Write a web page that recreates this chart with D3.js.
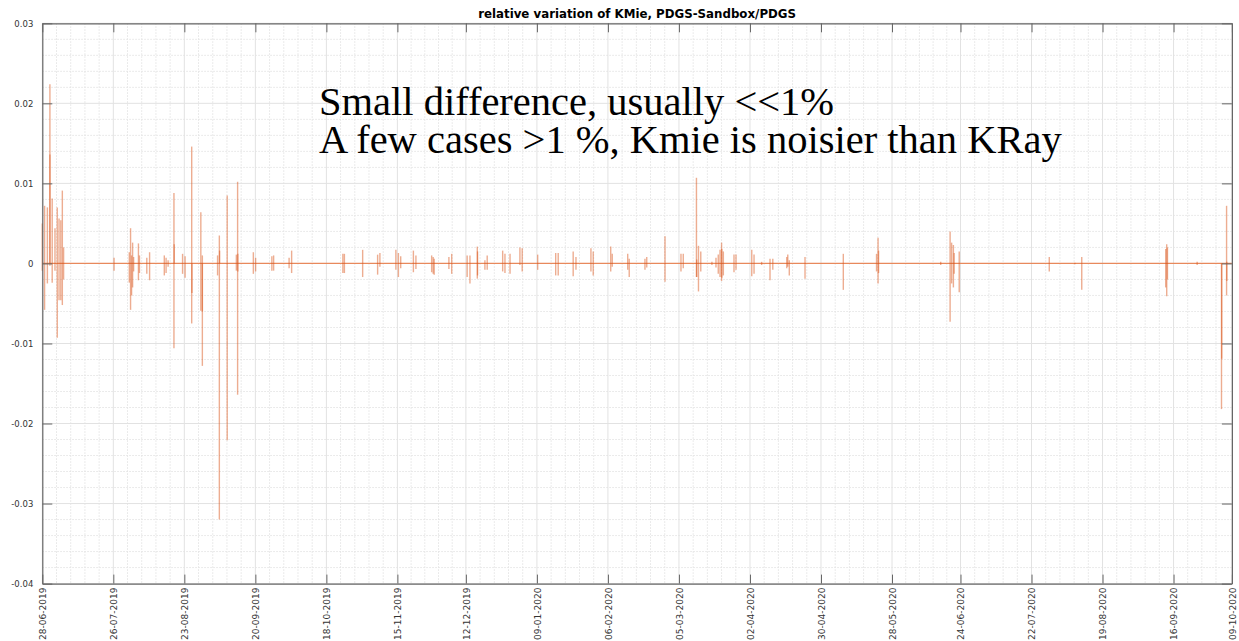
<!DOCTYPE html>
<html>
<head>
<meta charset="utf-8">
<script src="https://cdn.jsdelivr.net/npm/d3@7"></script>
<style>
  html, body { margin: 0; padding: 0; background: #fff; overflow: hidden; }
  svg { display: block; }
</style>
</head>
<body>
<svg id="chart" width="1239" height="641"></svg>
<script>
// Relative variation of KMie between the PDGS-Sandbox and PDGS processing chains.

const chartTitle = "relative variation of KMie, PDGS-Sandbox/PDGS";
const noteLines = [
  "Small difference, usually <<1%",
  "A few cases >1 %, Kmie is noisier than KRay"
];

// date tick labels (dd-mm-yyyy); first and last bound the time axis
const xTickLabels = [
  "28-06-2019", "26-07-2019", "23-08-2019", "20-09-2019", "18-10-2019", "15-11-2019",
  "12-12-2019", "09-01-2020", "06-02-2020", "05-03-2020", "02-04-2020", "30-04-2020",
  "28-05-2020", "24-06-2020", "22-07-2020", "19-08-2020", "16-09-2020", "09-10-2020"
];
const yTicks = [-0.04, -0.03, -0.02, -0.01, 0, 0.01, 0.02, 0.03];

// each spike: day offset from the first date, highest and lowest excursion
const spikeDay = [
  0.0, 0.9, 2.0, 3.0, 3.0, 3.9, 5.0, 5.9, 6.6, 7.3, 7.9, 8.4,
  28.3, 34.3, 34.8, 35.2, 35.6, 36.0, 37.9, 38.3, 41.2, 42.3,
  48.1, 48.8, 49.6, 51.9, 52.0, 55.3, 56.3, 58.9, 59.0, 62.5, 63.1, 63.1,
  69.1, 69.8, 69.9, 72.9, 76.5, 77.0, 77.1, 83.2, 84.1, 90.5, 91.2, 97.3, 98.3,
  118.5, 119.1, 126.3, 132.2, 133.1, 139.4, 140.4, 141.3, 146.3, 147.3,
  153.5, 154.1, 154.5, 160.3, 161.4, 167.5, 168.6, 171.5, 171.6, 174.5, 175.4,
  181.5, 182.4, 184.4, 188.3, 189.2, 195.3, 202.4, 203.4, 209.3, 210.4,
  216.3, 217.2, 224.1, 224.7, 230.8, 231.4, 237.6, 238.3, 245.5, 251.8, 252.7,
  257.9, 258.0, 258.7, 259.6, 264.0, 265.6, 266.5, 267.2, 267.8, 267.9, 268.5,
  272.7, 273.5, 279.7, 280.6, 283.6, 286.9, 288.0, 293.5, 293.9, 294.5, 300.7,
  315.8, 328.9, 329.5, 329.7, 354.2, 357.9, 358.5, 359.2, 359.5, 361.5,
  397.0, 407.1, 409.8, 442.9, 443.3, 443.6, 455.3, 464.9, 465.0, 466.9, 467.0
];
const spikeHigh = [
  0.0050, 0.0072, 0.0070, 0.0224, 0.0136, 0.0081, 0.0044, 0.0070, 0.0056, 0.0054, 0.0091, 0.0020,
  0.0007, 0.0014, 0.0044, 0.0010, 0.0026, 0.0008, 0.0025, 0.0010, 0.0007, 0.0014,
  0.0010, 0.0007, 0.0004, 0.0088, 0.0024, 0.0012, 0.0009, 0.0146, 0.0000, 0.0064, 0.0010, 0.0000,
  0.0010, 0.0035, 0.0016, 0.0085, 0.0011, 0.0102, 0.0012, 0.0014, 0.0007, 0.0009, 0.0010, 0.0007, 0.0016,
  0.0012, 0.0012, 0.0017, 0.0011, 0.0013, 0.0017, 0.0013, 0.0009, 0.0016, 0.0010,
  0.0010, 0.0008, 0.0006, 0.0008, 0.0012, 0.0010, 0.0010, 0.0021, 0.0015, 0.0004, 0.0010,
  0.0016, 0.0012, 0.0012, 0.0020, 0.0019, 0.0011, 0.0013, 0.0013, 0.0015, 0.0008,
  0.0019, 0.0015, 0.0021, 0.0012, 0.0012, 0.0006, 0.0006, 0.0008, 0.0034, 0.0012, 0.0012,
  0.0107, 0.0005, 0.0022, 0.0015, 0.0002, 0.0007, 0.0011, 0.0017, 0.0026, 0.0018, 0.0015,
  0.0011, 0.0011, 0.0017, 0.0011, 0.0002, 0.0006, 0.0006, 0.0008, 0.0011, 0.0004, 0.0008,
  0.0012, 0.0012, 0.0032, 0.0016, 0.0002, 0.0040, 0.0026, 0.0023, 0.0013, 0.0015,
  0.0008, 0.0001, 0.0008, 0.0018, 0.0024, 0.0020, 0.0002, 0.0000, 0.0000, 0.0072, 0.0002
];
const spikeLow = [
  -0.0009, -0.0058, -0.0025, 0.0000, -0.0003, -0.0024, -0.0009, -0.0093, -0.0046, -0.0046, -0.0052, -0.0020,
  -0.0009, -0.0024, -0.0058, -0.0040, -0.0030, -0.0010, -0.0021, -0.0012, -0.0013, -0.0021,
  -0.0015, -0.0012, -0.0004, -0.0106, 0.0000, -0.0013, -0.0018, -0.0075, -0.0037, -0.0059, -0.0128, -0.0060,
  -0.0015, -0.0320, 0.0000, -0.0221, -0.0009, -0.0164, -0.0010, -0.0013, -0.0010, -0.0009, -0.0009, -0.0006, -0.0012,
  -0.0012, -0.0012, -0.0017, -0.0014, -0.0004, -0.0008, -0.0017, -0.0006, -0.0011, -0.0007,
  -0.0011, -0.0013, -0.0014, -0.0007, -0.0013, -0.0017, -0.0025, -0.0019, -0.0015, -0.0008, -0.0008,
  -0.0010, -0.0012, -0.0013, -0.0002, -0.0010, -0.0008, -0.0015, -0.0015, -0.0016, -0.0008,
  -0.0010, -0.0015, -0.0010, -0.0004, -0.0008, -0.0017, -0.0008, -0.0005, -0.0023, -0.0010, -0.0006,
  -0.0017, -0.0017, -0.0035, -0.0010, -0.0002, -0.0005, -0.0013, -0.0017, -0.0022, -0.0018, -0.0015,
  -0.0011, -0.0008, -0.0016, -0.0013, -0.0002, -0.0021, -0.0008, -0.0006, -0.0004, -0.0015, -0.0019,
  -0.0033, -0.0010, -0.0025, -0.0012, -0.0002, -0.0073, -0.0025, -0.0030, -0.0013, -0.0036,
  -0.0010, -0.0001, -0.0033, -0.0030, -0.0041, -0.0020, -0.0002, -0.0182, -0.0119, -0.0040, -0.0022
];

const W = 1239, H = 641;
const plot = { left: 42.3, right: 1231.9, top: 23.3, bottom: 583.6 };
const lineColor = "#d95319";

const parseDay = d3.timeParse("%d-%m-%Y");
const tickDates = xTickLabels.map(parseDay);
const DAY = 864e5;
const startTime = tickDates[0].getTime();
const spikeDate = d => new Date(startTime + d * DAY);

const x = d3.scaleTime()
  .domain([tickDates[0], tickDates[tickDates.length - 1]])
  .range([plot.left, plot.right]);
const y = d3.scaleLinear()
  .domain([-0.04, 0.03])
  .range([plot.bottom, plot.top]);

const svg = d3.select("#chart");
svg.append("rect").attr("width", W).attr("height", H).attr("fill", "#fff");

// minor grid: five divisions per major interval
const minorX = [];
for (let i = 0; i < tickDates.length - 2; i++) {
  const a = tickDates[i].getTime(), b = tickDates[i + 1].getTime();
  for (let k = 1; k < 5; k++) minorX.push(new Date(a + (b - a) * k / 5));
}
{
  const n = tickDates.length;
  const step = (tickDates[n - 2].getTime() - tickDates[0].getTime()) / ((n - 2) * 5);
  for (let t = tickDates[n - 2].getTime() + step; t < tickDates[n - 1].getTime() - step * 0.2; t += step) minorX.push(new Date(t));
}
const minorY = [];
for (let i = 0; i < yTicks.length - 1; i++) {
  for (let k = 1; k < 5; k++) minorY.push(yTicks[i] + (yTicks[i + 1] - yTicks[i]) * k / 5);
}

const grid = svg.append("g");
grid.selectAll("line.mx").data(minorX).join("line")
  .attr("x1", d => x(d)).attr("x2", d => x(d))
  .attr("y1", plot.top).attr("y2", plot.bottom)
  .attr("stroke", "#e4e4e4").attr("stroke-width", 1).attr("stroke-dasharray", "1.5,1.5");
grid.selectAll("line.my").data(minorY).join("line")
  .attr("x1", plot.left).attr("x2", plot.right)
  .attr("y1", d => y(d)).attr("y2", d => y(d))
  .attr("stroke", "#e4e4e4").attr("stroke-width", 1).attr("stroke-dasharray", "1.5,1.5");
grid.selectAll("line.gx").data(tickDates).join("line")
  .attr("x1", d => x(d)).attr("x2", d => x(d))
  .attr("y1", plot.top).attr("y2", plot.bottom)
  .attr("stroke", "#e2e2e2").attr("stroke-width", 1);
grid.selectAll("line.gy").data(yTicks.filter(v => v !== 0)).join("line")
  .attr("x1", plot.left).attr("x2", plot.right)
  .attr("y1", d => y(d)).attr("y2", d => y(d))
  .attr("stroke", "#e2e2e2").attr("stroke-width", 1);

// zero baseline of the series
svg.append("line")
  .attr("x1", x(tickDates[0])).attr("x2", x(tickDates[tickDates.length - 1]))
  .attr("y1", y(0)).attr("y2", y(0))
  .attr("stroke", "#e8895c").attr("stroke-width", 1.2);

// spikes
svg.append("g").selectAll("line").data(spikeDay.map((d, i) => i)).join("line")
  .attr("x1", i => x(spikeDate(spikeDay[i])))
  .attr("x2", i => x(spikeDate(spikeDay[i])))
  .attr("y1", i => y(spikeHigh[i]))
  .attr("y2", i => y(spikeLow[i]))
  .attr("stroke", lineColor).attr("stroke-opacity", 0.48).attr("stroke-width", 1.4);

// axes: box with inward ticks on all four sides
const axisColor = "#666";
const tickFont = "'DejaVu Sans', sans-serif";

const gBottom = svg.append("g").attr("transform", `translate(0,${plot.bottom})`)
  .call(d3.axisBottom(x).tickValues(tickDates).tickSizeInner(-9).tickSizeOuter(0)
    .tickFormat((d, i) => xTickLabels[i]));
gBottom.selectAll("text")
  .attr("transform", "rotate(-90)")
  .attr("text-anchor", "end")
  .attr("x", -4).attr("y", 0).attr("dy", "0.35em")
  .style("font-family", tickFont).style("font-size", "9px").attr("fill", "#333");

const gTop = svg.append("g").attr("transform", `translate(0,${plot.top})`)
  .call(d3.axisTop(x).tickValues(tickDates).tickSizeInner(-9).tickSizeOuter(0).tickFormat(""));

const gLeft = svg.append("g").attr("transform", `translate(${plot.left},0)`)
  .call(d3.axisLeft(y).tickValues(yTicks).tickSizeInner(-10).tickSizeOuter(0).tickPadding(9)
    .tickFormat(v => v === 0 ? "0" : v.toFixed(2)));
gLeft.selectAll("text")
  .style("font-family", tickFont).style("font-size", "8.5px").attr("fill", "#333");

const gRight = svg.append("g").attr("transform", `translate(${plot.right},0)`)
  .call(d3.axisRight(y).tickValues(yTicks).tickSizeInner(-10).tickSizeOuter(0).tickFormat(""));

[gBottom, gTop, gLeft, gRight].forEach(g => {
  g.selectAll(".domain").attr("stroke", axisColor).attr("stroke-width", 1.2);
  g.selectAll(".tick line").attr("stroke", axisColor).attr("stroke-width", 1);
});

// title
svg.append("text")
  .attr("x", (plot.left + plot.right) / 2).attr("y", 17.5)
  .attr("text-anchor", "middle")
  .style("font-family", tickFont).style("font-size", "11.8px").style("font-weight", "bold")
  .attr("fill", "#000")
  .text(chartTitle);

// annotation: one two-line text block
const note = svg.append("text")
  .attr("x", 319).attr("y", 115)
  .style("font-family", "'Liberation Serif', serif").style("font-size", "40.5px")
  .attr("fill", "#000");
note.selectAll("tspan").data(noteLines).join("tspan")
  .attr("x", 319)
  .attr("dy", (d, i) => i === 0 ? 0 : 38)
  .text(d => d);
</script>
</body>
</html>
